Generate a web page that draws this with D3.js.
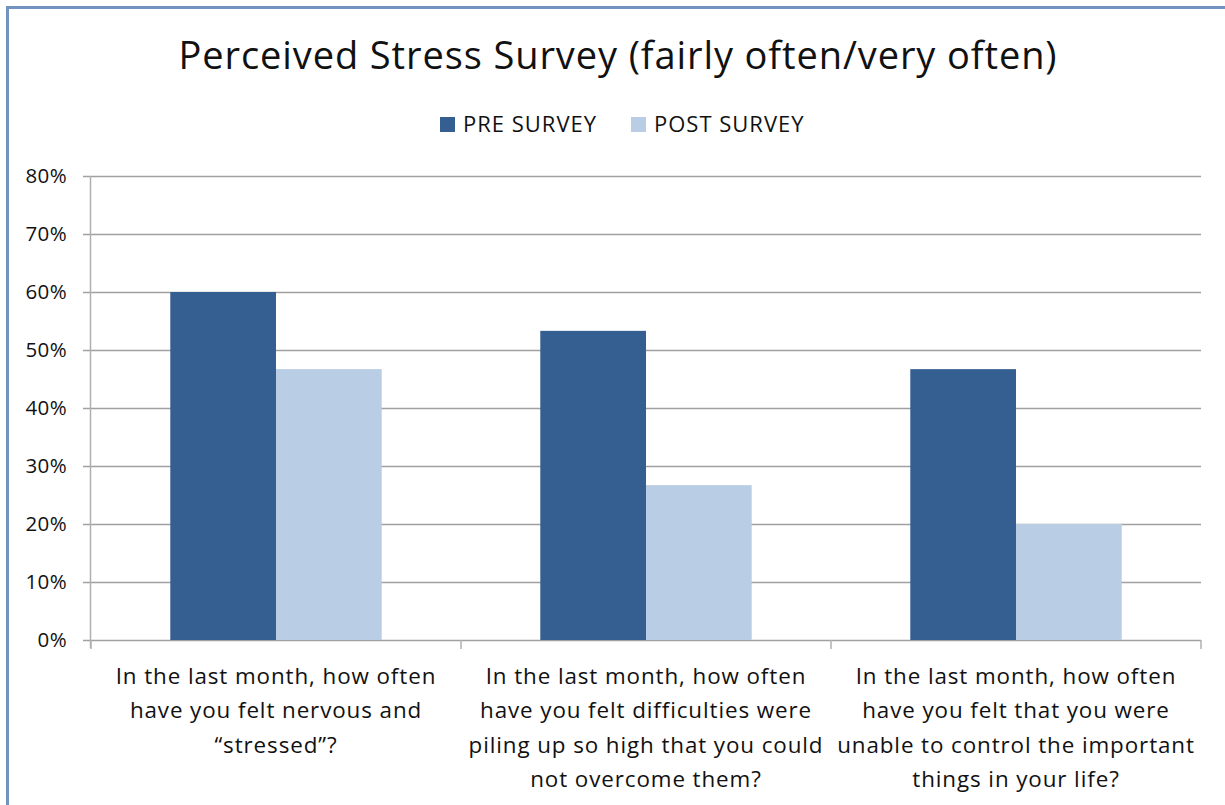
<!DOCTYPE html>
<html>
<head>
<meta charset="utf-8">
<script src="https://cdn.jsdelivr.net/npm/d3@7"></script>
<style>
  body { margin: 0; background: #fff; }
  text { font-family: "Open Sans", Lato, sans-serif; fill: #111; }
</style>
</head>
<body>
<svg id="chart" width="1225" height="805"></svg>
<script>
// chart data
const categories = [
  ["In the last month, how often", "have you felt nervous and", "\u201cstressed\u201d?"],
  ["In the last month, how often", "have you felt difficulties were", "piling up so high that you could", "not overcome them?"],
  ["In the last month, how often", "have you felt that you were", "unable to control the important", "things in your life?"]
];
const series = ["PRE SURVEY", "POST SURVEY"];
const preValues = [0.60, 0.533, 0.467];
const postValues = [0.467, 0.267, 0.20];
const yTicks = [0, 0.1, 0.2, 0.3, 0.4, 0.5, 0.6, 0.7, 0.8];

const colors = ["#365f91", "#b9cde5"];

const svg = d3.select("#chart");

// outer frame (only top/left visible in the crop)
svg.append("path")
  .attr("d", "M7.5,805 L7.5,7.5 L1225,7.5")
  .attr("fill", "none")
  .attr("stroke", "#7292bf")
  .attr("stroke-width", 3);

const plotL = 91, plotR = 1201, plotT = 176, plotB = 640;

const x = d3.scaleBand()
  .domain(d3.range(categories.length))
  .range([plotL, plotR]);

const y = d3.scaleLinear()
  .domain([0, 0.8])
  .range([plotB, plotT]);

// bars are ~106px in a 370px band -> gap width ~150%
const barW = x.bandwidth() / 3.5;
const xs = d3.scaleBand()
  .domain(d3.range(series.length))
  .range([0, barW * 2]);

// gridlines
svg.append("g")
  .selectAll("line")
  .data(yTicks)
  .join("line")
  .attr("x1", plotL - 8)
  .attr("x2", plotR)
  .attr("y1", d => y(d) + 0.5)
  .attr("y2", d => y(d) + 0.5)
  .attr("stroke", "#a0a0a0")
  .attr("stroke-width", 1.5);

// y axis line
svg.append("line")
  .attr("x1", plotL - 0.5).attr("x2", plotL - 0.5)
  .attr("y1", plotT).attr("y2", plotB + 8)
  .attr("stroke", "#b0b0b0")
  .attr("stroke-width", 1.5);

// x category ticks
svg.append("g")
  .selectAll("line")
  .data(d3.range(categories.length + 1))
  .join("line")
  .attr("x1", i => plotL + i * x.step())
  .attr("x2", i => plotL + i * x.step())
  .attr("y1", plotB)
  .attr("y2", plotB + 9)
  .attr("stroke", "#b0b0b0")
  .attr("stroke-width", 1.5);

// y tick labels
svg.append("g")
  .selectAll("text")
  .data(yTicks)
  .join("text")
  .attr("x", 67)
  .attr("y", d => y(d))
  .attr("dy", "0.35em")
  .attr("text-anchor", "end")
  .style("font-size", "20.5px")
  .style("letter-spacing", "0.4px")
  .text(d3.format(".0%"));

// bars
const groups = svg.append("g")
  .selectAll("g")
  .data(categories.map((c, i) => [preValues[i], postValues[i]]))
  .join("g")
  .attr("transform", (d, i) => `translate(${x(i) + (x.bandwidth() - barW * 2) / 2},0)`);

groups.selectAll("rect")
  .data(d => d)
  .join("rect")
  .attr("x", (d, j) => xs(j))
  .attr("y", d => y(d))
  .attr("width", xs.bandwidth())
  .attr("height", d => plotB - y(d))
  .attr("fill", (d, j) => colors[j]);

// category labels
svg.append("g")
  .selectAll("text")
  .data(categories)
  .join("text")
  .attr("text-anchor", "middle")
  .style("font-size", "22.4px")
  .style("letter-spacing", "0.9px")
  .each(function(lines, i) {
    d3.select(this).selectAll("tspan")
      .data(lines)
      .join("tspan")
      .attr("x", x(i) + x.bandwidth() / 2)
      .attr("y", (l, k) => 684 + k * 34.3)
      .text(l => l);
  });

// title
svg.append("text")
  .attr("x", 618)
  .attr("y", 69)
  .attr("text-anchor", "middle")
  .style("font-size", "38px")
  .style("letter-spacing", "0.9px")
  .text("Perceived Stress Survey (fairly often/very often)");

// legend
const legendX = [440, 631];
const legend = svg.append("g")
  .selectAll("g")
  .data(series)
  .join("g")
  .attr("transform", (d, i) => `translate(${legendX[i]},117)`);

legend.append("rect")
  .attr("width", 15).attr("height", 15)
  .attr("fill", (d, i) => colors[i]);

legend.append("text")
  .attr("x", 23)
  .attr("y", 7.5)
  .attr("dy", "0.36em")
  .style("font-size", "22px")
  .style("letter-spacing", "1px")
  .text(d => d);
</script>
</body>
</html>
